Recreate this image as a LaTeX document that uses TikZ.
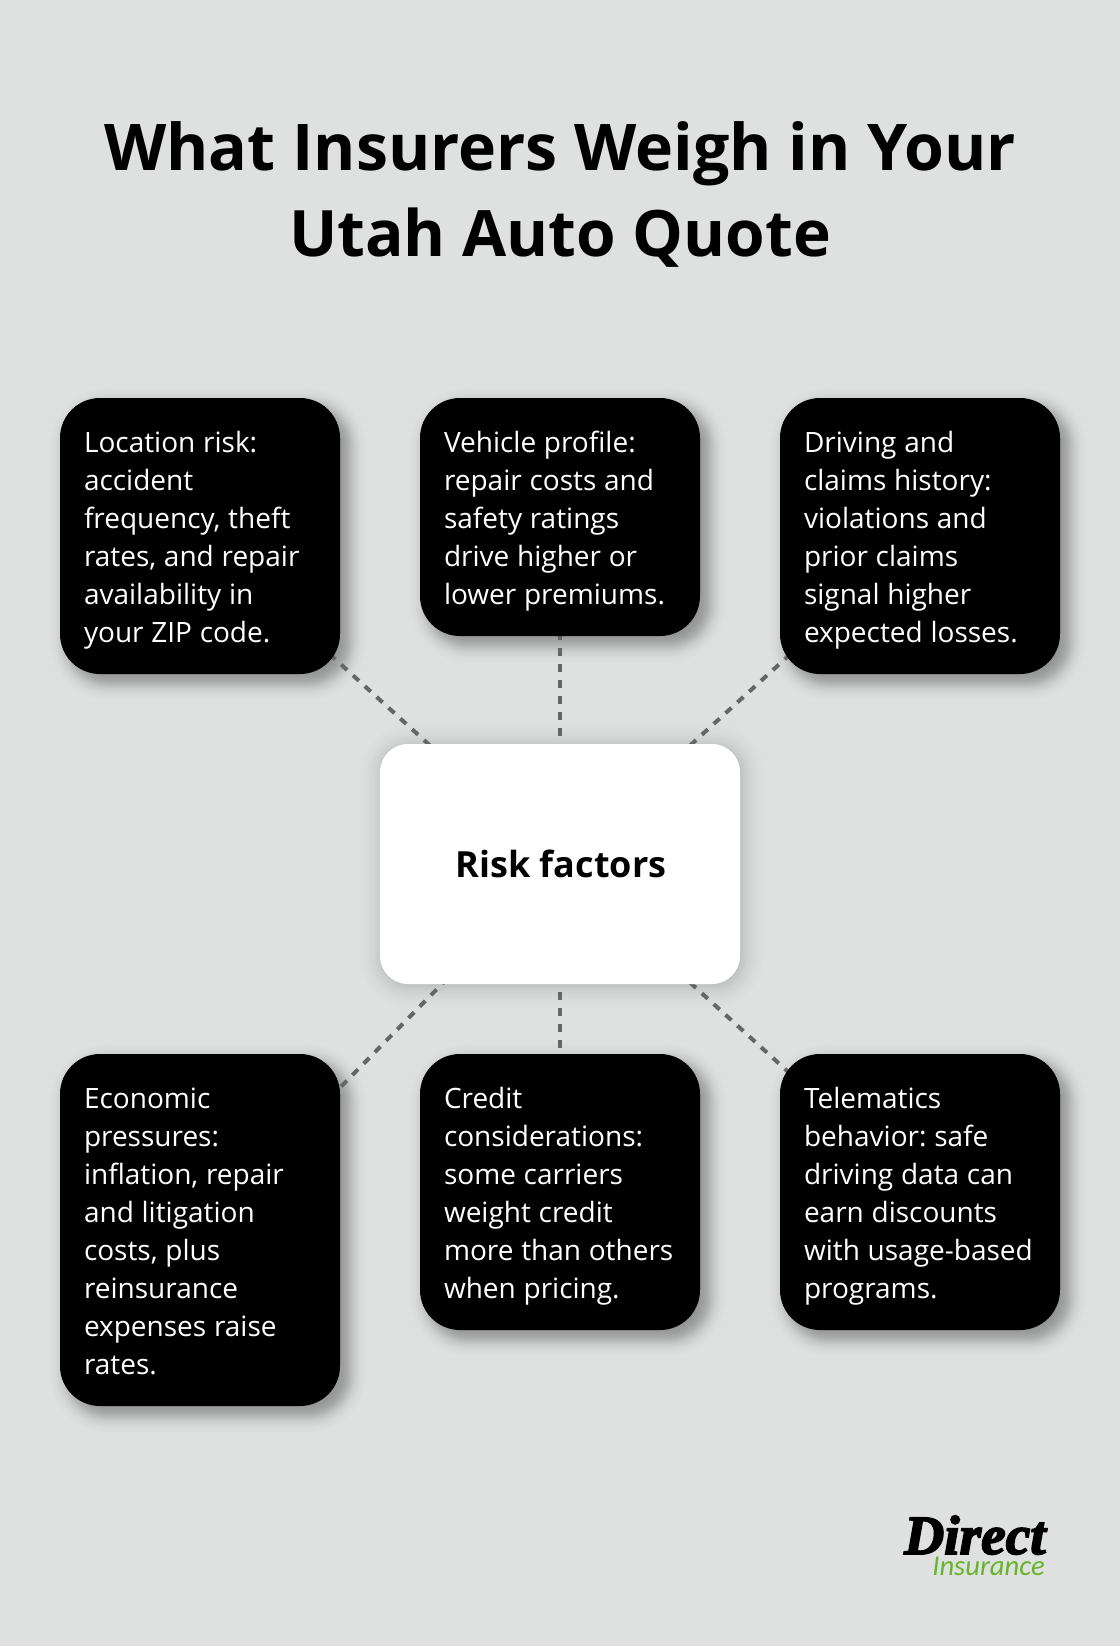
\documentclass[tikz,border=0pt]{standalone}
\usepackage{fontspec}
\usetikzlibrary{calc}
\setmainfont{Open Sans}
\newfontfamily\logoserif[FakeBold=3]{Liberation Serif}
\newfontfamily\logosans{Carlito}
\definecolor{bgc}{HTML}{DFE1E0}
\definecolor{dashc}{HTML}{666666}
\definecolor{logogreen}{HTML}{67B52C}
\pgfdeclarelayer{bglayer}
\pgfdeclarelayer{shadowlayer}
\pgfdeclarelayer{linelayer}
\pgfsetlayers{bglayer,shadowlayer,linelayer,main}
\newcommand{\linestrut}{\rule[-5.3pt]{0pt}{28.5pt}}
\newcommand{\cardfont}{\fontsize{21}{28.5}\selectfont\frenchspacing}
\newcommand{\cardstart}{\leftskip=3pt\relax\spaceskip=5.8pt\relax\linestrut}
\tikzset{
  px/.style={x=0.75pt,y=-0.75pt},
  card/.style={fill=black,text=white,rounded corners=30pt,minimum width=210pt,inner sep=0pt,outer sep=0pt,
    align=left,text width=180pt,font=\cardfont,
    execute at begin node=\cardstart,execute at end node=\linestrut},
  hub/.style={fill=white,text=black,rounded corners=21pt,minimum width=270pt,minimum height=180pt,inner sep=0pt,outer sep=0pt,
    align=center,font=\fontsize{27}{36}\selectfont\bfseries},
  titletext/.style={align=center,text=black,inner sep=0pt,font=\fontsize{48}{64.5}\selectfont\bfseries\frenchspacing},
  link/.style={draw=dashc,line width=3pt,dash pattern=on 6pt off 6pt},
}
% node, corner radius (px), offset (px), sigma (px), peak layer opacity
\newcommand{\softshadow}[5]{%
  \foreach \k in {-20,...,20}{
    \pgfmathsetmacro{\dd}{\k*#4/8}
    \pgfmathsetmacro{\rr}{max(#2+\dd,2)*0.75}
    \pgfmathsetmacro{\aa}{#5*exp(-0.5*(\k/8)*(\k/8))}
    \fill[black,opacity=\aa,rounded corners=\rr pt]
      ($(#1.north west)+(#3-\dd,#3-\dd)$) rectangle ($(#1.south east)+(#3+\dd,#3+\dd)$);
  }
}
\begin{document}
\begin{tikzpicture}[px]
\useasboundingbox (0,0) rectangle (1120,1646);
\begin{pgfonlayer}{bglayer}
\fill[bgc] (0,0) rectangle (1120,1646);
\end{pgfonlayer}
\node[titletext] (title) at (560,194.5) {{\fontsize{48.3}{64.5}\selectfont What Insurers Weigh in Your}\\Utah Auto Quote};
\node[hub] (hubbox) at (560,864) {\hspace{1.5pt}\raisebox{-6pt}{Risk factors}};
\node[card,minimum height=207pt] (loc) at (200,536) {Location risk:\\accident\\frequency, theft\\rates, and repair\\availability in\\your ZIP code.};
\node[card,minimum height=178.5pt] (veh) at (560,517) {Vehicle profile:\\repair costs and\\safety ratings\\drive higher or\\lower premiums.};
\node[card,minimum height=207pt] (drv) at (920,536) {Driving and\\claims history:\\violations and\\prior claims\\signal higher\\expected losses.};
\node[card,minimum height=264pt] (eco) at (200,1230) {Economic\\pressures:\\inflation, repair\\and litigation\\costs, plus\\reinsurance\\expenses raise\\rates.};
\node[card,minimum height=207pt] (cre) at (560,1192) {Credit\\considerations:\\some carriers\\weight credit\\more than others\\when pricing.};
\node[card,minimum height=207pt] (tel) at (920,1192) {Telematics\\behavior: safe\\driving data can\\earn discounts\\with usage-based\\programs.};
\begin{pgfonlayer}{shadowlayer}
  \foreach \n in {loc,veh,drv,eco,cre,tel}{\softshadow{\n}{40}{8}{9}{0.02}}
  \softshadow{hubbox}{28}{2}{13}{0.011}
\end{pgfonlayer}
\begin{pgfonlayer}{linelayer}
  \foreach \n in {loc,veh,drv,eco,cre,tel}{\draw[link] (hubbox.center) -- (\n.center);}
\end{pgfonlayer}
\node[text=black,inner sep=0pt,anchor=base west,font=\fontsize{41.5}{42}\logoserif\bfseries\itshape] (logotop) at (904,1554) {Direct};
\node[text=logogreen,inner sep=0pt,anchor=base west,font=\fontsize{21.5}{22}\logosans\itshape] (logobot) at (932,1575.5) {Insurance};
\end{tikzpicture}
\end{document}
